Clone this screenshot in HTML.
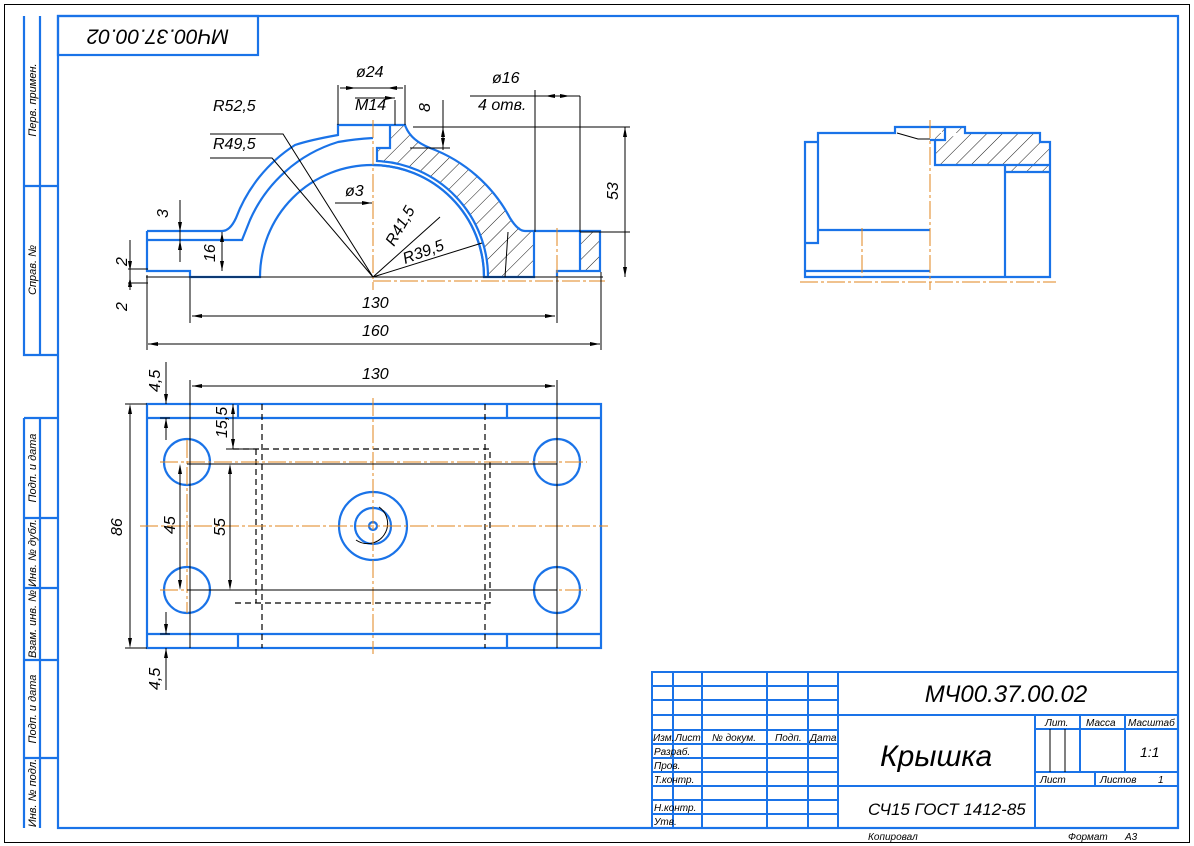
<!DOCTYPE html>
<html><head><meta charset="utf-8"><style>
html,body{margin:0;padding:0;background:#fff}
svg{display:block}
text{font-family:"Liberation Sans","DejaVu Sans",sans-serif;font-style:italic;fill:#000}
</style></head><body>
<svg width="1194" height="846" viewBox="0 0 1194 846" xmlns="http://www.w3.org/2000/svg">
<defs>
<pattern id="h" patternUnits="userSpaceOnUse" width="11" height="11" patternTransform="rotate(45)">
<line x1="0" y1="0" x2="0" y2="11" stroke="#000" stroke-width="0.9"/>
</pattern>
</defs>
<rect x="4.5" y="4.5" width="1185" height="838" fill="none" stroke="#000" stroke-width="1"/>
<g fill="none" stroke="#1a73e8" stroke-width="2.2">
<rect x="58" y="16" width="1120" height="812"/>
<rect x="58" y="16" width="200" height="39"/>
<path d="M24 16V355H58M40 16V355M24 186H58M24 418H58M24 418V828M40 418V828M24 518H58M24 588H58M24 660H58M24 758H58"/>
</g>
<text transform="translate(158,35) rotate(180)" font-size="21" text-anchor="middle" dominant-baseline="middle">МЧ00.37.00.02</text>
<g font-size="11">
<text transform="translate(36,100) rotate(-90)" text-anchor="middle">Перв. примен.</text>
<text transform="translate(36,270) rotate(-90)" text-anchor="middle">Справ. №</text>
<text transform="translate(36,468) rotate(-90)" text-anchor="middle">Подп. и дата</text>
<text transform="translate(36,553) rotate(-90)" text-anchor="middle">Инв. № дубл.</text>
<text transform="translate(36,624) rotate(-90)" text-anchor="middle">Взам. инв. №</text>
<text transform="translate(36,709) rotate(-90)" text-anchor="middle">Подп. и дата</text>
<text transform="translate(36,793) rotate(-90)" text-anchor="middle">Инв. № подл.</text>
</g>

<!-- Title block -->
<g fill="none" stroke="#1a73e8" stroke-width="2">
<rect x="652" y="672" width="526" height="156"/>
<path d="M673 672V828M702 672V828M767 672V828M808 672V828M838 672V828"/>
<path d="M652 686H838M652 700H838M652 715H838M652 730H838M652 744H838M652 758H838M652 772H838M652 786H838M652 800H838M652 814H838"/>
<path d="M838 715H1178M1035 715V828M838 786H1178M1035 729H1178M1035 772H1178M1080 715V772M1125 715V772M1095 772V786"/>
</g>
<path d="M1050 729V772M1065 729V772" stroke="#000" stroke-width="1"/>
<g font-size="10">
<text x="653" y="741">Изм.</text><text x="675" y="741">Лист</text><text x="712" y="741">№ докум.</text><text x="775" y="741">Подп.</text><text x="810" y="741">Дата</text>
<text x="654" y="755">Разраб.</text><text x="654" y="769">Пров.</text><text x="654" y="783">Т.контр.</text><text x="654" y="811">Н.контр.</text><text x="654" y="825">Утв.</text>
<text x="1045" y="726">Лит.</text><text x="1086" y="726">Масса</text><text x="1128" y="726">Масштаб</text>
<text x="1040" y="783">Лист</text><text x="1100" y="783">Листов</text><text x="1158" y="783">1</text>
<text x="868" y="840">Копировал</text><text x="1068" y="840">Формат</text><text x="1125" y="840">А3</text>
</g>
<text x="1006" y="702" font-size="24" text-anchor="middle">МЧ00.37.00.02</text>
<text x="880" y="766" font-size="30">Крышка</text>
<text x="868" y="815" font-size="17">СЧ15  ГОСТ 1412-85</text>
<text x="1140" y="757" font-size="14">1:1</text>

<!-- FRONT VIEW -->
<path d="M390 125H405Q410 140 430 148A149 149 0 0 1 510 218Q518 231 534 231V277H488A116 116 0 0 0 377 161V148H390Z" fill="url(#h)"/>
<rect x="580" y="231" width="20" height="40" fill="url(#h)"/>
<g fill="none" stroke="#1a73e8" stroke-width="2.2">
<path d="M147 231V271H190V277H260A112 112 0 0 1 484 277H534V231H525Q518 231 510 218A149 149 0 0 0 430 148Q410 140 405 125H338V135Q310 140 295 145A149 149 0 0 0 236 218Q230 231 222 231H147"/>
<path d="M147 240H242L250 220A141 141 0 0 1 338 142Q355 139 373 138"/>
<path d="M488 277A116 116 0 0 0 377 161V148H390V125"/>
<path d="M534 231H600V271H557V277M580 231V271"/>
<path d="M484 277A112 112 0 0 0 373 165"/>
</g>
<path d="M508 232L505 277" stroke="#000" stroke-width="1" fill="none"/>
<g stroke="#e0861c" stroke-width="1" fill="none" stroke-dasharray="18 3 3 3">
<path d="M373 120V290M373 281H605M557 228V282"/>
</g>
<g stroke="#000" stroke-width="1" fill="none">
<path d="M146 277H603M147 275V350M601 272V350M190 278V323M557 278V323M148 344H600M192 316H555"/>
<path d="M338 125V85M405 125V85M340 88H403M355 98H395M395 100V125"/>
<path d="M413 127H630M580 232H630M625 127V277M470 96H580M535 90V232M580 96V232"/>
<path d="M410 148H450M443 100V150"/>
<path d="M335 203H372M210 134H283L373 277M210 158H272L373 277M373 277L440 217M373 277L482 243"/>
<path d="M180 200V262M130 240V290M128 269H148M128 283H148"/>
<path d="M222 232V271"/>
</g>
<g fill="#000">
<path d="M148 344l10-2v4zM600 344l-10-2v4zM192 316l10-2v4zM555 316l-10-2v4zM625 127l-2 10h4zM625 277l-2-10h4zM356 88l-10-2v4zM387 88l10-2v4zM395 98l-10-2v4zM443 148l-2-10h4zM443 127l-2 10h4zM545 96l10-2v4zM570 96l-10-2v4zM372 203l-10-2v4zM222 232l-2 10h4zM222 271l-2-10h4zM180 232l-2-10h4zM180 240l-2 10h4zM130 271l-2-10h4zM130 277l-2 10h4z"/>
</g>
<g font-size="16">
<text x="356" y="77">ø24</text><text x="355" y="110">M14</text><text x="492" y="83">ø16</text><text x="478" y="110">4 отв.</text>
<text x="213" y="111">R52,5</text><text x="213" y="149">R49,5</text><text x="345" y="196">ø3</text>
<text x="362" y="308">130</text><text x="362" y="336">160</text>
<text transform="translate(394,247) rotate(-60)">R41,5</text>
<text transform="translate(405,264) rotate(-20)">R39,5</text>
<text transform="translate(618,200) rotate(-90)">53</text>
<text transform="translate(430,112) rotate(-90)">8</text>
<text transform="translate(168,218) rotate(-90)">3</text>
<text transform="translate(215,262) rotate(-90)">16</text>
<text transform="translate(127,266) rotate(-90)">2</text>
<text transform="translate(127,311) rotate(-90)">2</text>
</g>

<!-- SIDE VIEW -->
<path d="M935 141V133H965V127H942V140H935V165H1005V172H1050V142H1040V133H965" fill="url(#h)" stroke="none"/>
<g fill="none" stroke="#1a73e8" stroke-width="2.2">
<path d="M805 142H818V133H895V127H965V133H1040V142H1050V277H805V142ZM818 142V243H805M818 230H930M805 271H930M930 140H945V127M935 140V165H1050M1005 165V277M945 140H935"/>
<path d="M1005 172H1050"/>
</g>
<path d="M897 133L918 139H930" stroke="#000" stroke-width="1" fill="none"/>
<g stroke="#e0861c" stroke-width="1" fill="none" stroke-dasharray="18 3 3 3">
<path d="M930 120V290M800 282H1056M862 228V277"/>
</g>

<!-- PLAN VIEW -->
<g fill="none" stroke="#1a73e8" stroke-width="2.2">
<rect x="147" y="404" width="454" height="244"/>
<path d="M147 418H601M147 634H601M238 404V418M507 404V418M238 634V648M507 634V648"/>
<circle cx="187" cy="462" r="23"/><circle cx="557" cy="462" r="23"/><circle cx="187" cy="590" r="23"/><circle cx="557" cy="590" r="23"/>
<circle cx="373" cy="526" r="34"/><circle cx="373" cy="526" r="18"/><circle cx="373" cy="526" r="4"/>
</g>
<path d="M379 507A20 20 0 1 1 356 540" fill="none" stroke="#000" stroke-width="1"/>
<g fill="none" stroke="#000" stroke-width="1.2" stroke-dasharray="6 4">
<path d="M262 404V648M485 404V648M233 449H490V603H233M256 449V603"/>
</g>
<g stroke="#e0861c" stroke-width="1" fill="none" stroke-dasharray="18 3 3 3">
<path d="M140 526H608M373 398V654M160 462H587M160 590H587M187 440V613M557 440V613"/>
</g>
<g stroke="#000" stroke-width="1" fill="none">
<path d="M190 380V648M557 380V648M192 386H555M125 404H147M125 648H147M130 406V646"/>
<path d="M187 464H557M187 590H557M180 466V588M226 464H233M226 590H233M230 466V588M226 449H256M233 404V449"/>
<path d="M166 362V404M166 418V440M166 612V634M166 648V690M160 418H170M160 634H170"/>
</g>
<g fill="#000">
<path d="M192 386l10-2v4zM555 386l-10-2v4zM130 404l-2 10h4zM130 648l-2-10h4zM230 464l-2 10h4zM230 590l-2-10h4zM180 464l-2 10h4zM180 590l-2-10h4zM233 404l-2 10h4zM233 449l-2-10h4zM166 404l-2-10h4zM166 418l-2 10h4zM166 634l-2-10h4zM166 648l-2 10h4z"/>
</g>
<g font-size="16">
<text x="362" y="379">130</text>
<text transform="translate(122,536) rotate(-90)">86</text>
<text transform="translate(175,534) rotate(-90)">45</text>
<text transform="translate(225,536) rotate(-90)">55</text>
<text transform="translate(227,438) rotate(-90)">15,5</text>
<text transform="translate(160,392) rotate(-90)">4,5</text>
<text transform="translate(160,690) rotate(-90)">4,5</text>
</g>
</svg>
</body></html>
